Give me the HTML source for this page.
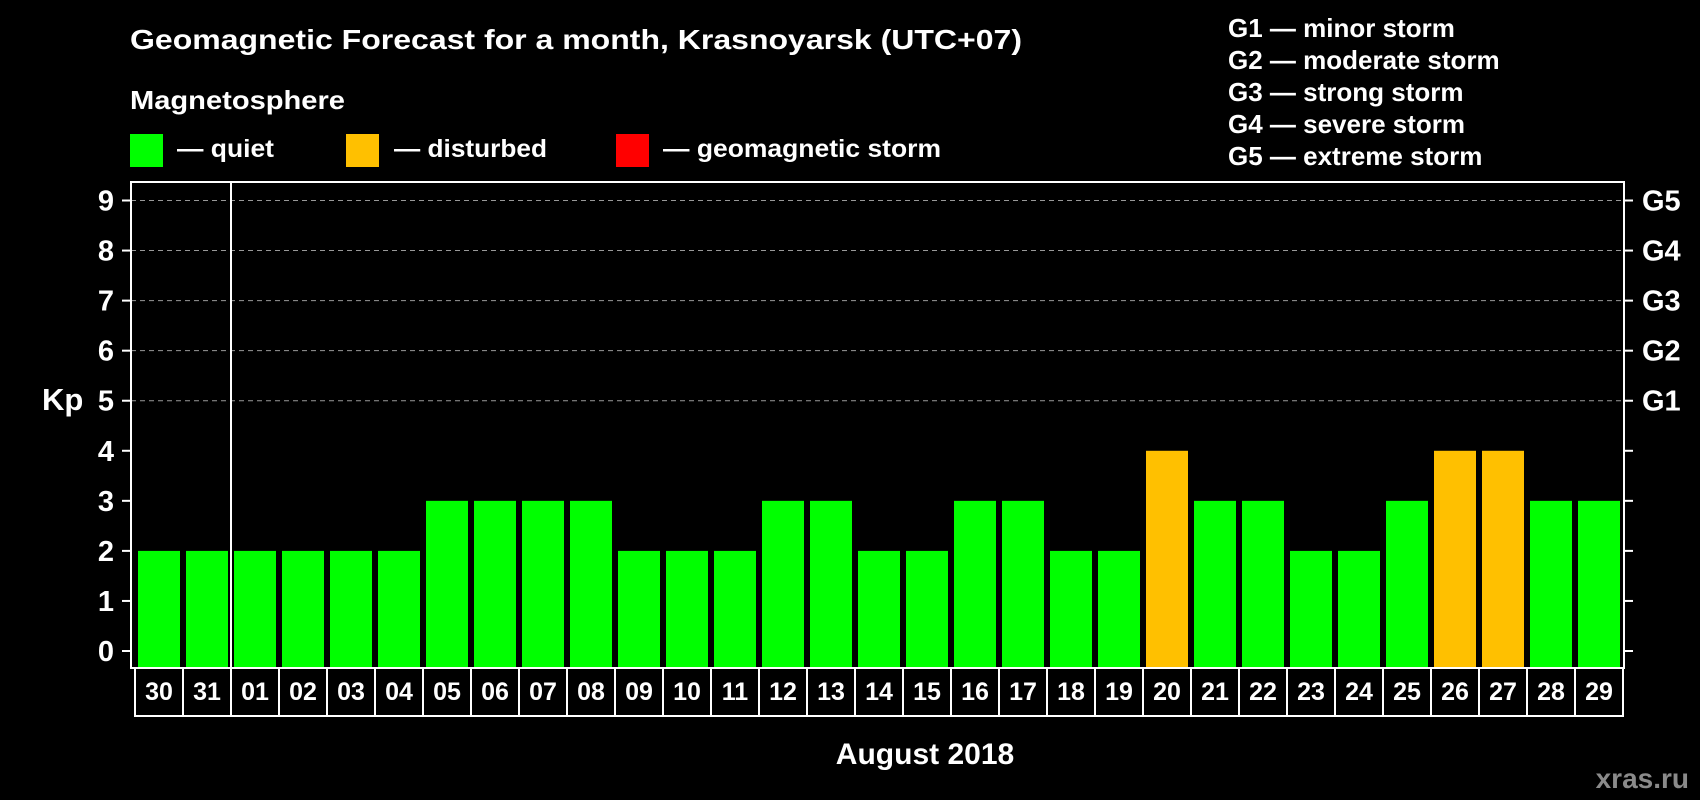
<!DOCTYPE html>
<html><head><meta charset="utf-8"><style>
html,body{margin:0;padding:0;background:#000;}
svg{display:block;font-family:"Liberation Sans",Arial,sans-serif;font-weight:bold;}
</style></head><body>
<svg id="chart" width="1700" height="800" viewBox="0 0 1700 800" xmlns="http://www.w3.org/2000/svg">
<rect width="1700" height="800" fill="#000"/>
<text x="130" y="49" font-size="28" fill="#fff" textLength="892" lengthAdjust="spacingAndGlyphs">Geomagnetic Forecast for a month, Krasnoyarsk (UTC+07)</text>
<text x="130" y="109" font-size="26" fill="#fff" textLength="215" lengthAdjust="spacingAndGlyphs">Magnetosphere</text>
<g>
<rect x="130" y="134" width="33" height="33" fill="#00ff00"/>
<text x="177" y="157" font-size="25" fill="#fff" textLength="97" lengthAdjust="spacingAndGlyphs">— quiet</text></g>
<g>
<rect x="346" y="134" width="33" height="33" fill="#ffc000"/>
<text x="394" y="157" font-size="25" fill="#fff" textLength="153" lengthAdjust="spacingAndGlyphs">— disturbed</text></g>
<g>
<rect x="616" y="134" width="33" height="33" fill="#ff0000"/>
<text x="663" y="157" font-size="25" fill="#fff" textLength="278" lengthAdjust="spacingAndGlyphs">— geomagnetic storm</text></g>
<g font-size="26" fill="#fff">
<text x="1228" y="37">G1 — minor storm</text>
<text x="1228" y="69">G2 — moderate storm</text>
<text x="1228" y="101">G3 — strong storm</text>
<text x="1228" y="133">G4 — severe storm</text>
<text x="1228" y="165">G5 — extreme storm</text>
</g>
<text x="42" y="410" font-size="31" fill="#fff">Kp</text>
<text x="925" y="764" font-size="30" fill="#fff" text-anchor="middle">August 2018</text>
<text x="1689" y="788" font-size="28" fill="#8a8a8a" text-anchor="end">xras.ru</text>
<g id="grid"></g><g id="bars"></g><g id="axes"></g>
</svg>
<script>
const categories = ["30","31","01","02","03","04","05","06","07","08","09","10","11","12","13","14","15","16","17","18","19","20","21","22","23","24","25","26","27","28","29"];
const kpValues = [2,2,2,2,2,2,3,3,3,3,2,2,2,3,3,2,2,3,3,2,2,4,3,3,2,2,3,4,4,3,3];
const yTicks = [0,1,2,3,4,5,6,7,8,9];
const stormLabels = ["G1","G2","G3","G4","G5"];
const stormLevels = [5,6,7,8,9];

const NS="http://www.w3.org/2000/svg";
const L=131,R=1624,T=182,B=668;
const y0=651,unit=(651-200.5)/9;
const pitch=(R-L-5)/categories.length;
function yScale(v){return y0-v*unit;}
function xScale(i){return L+7+i*pitch;}
function mk(tag,attrs,parent){const e=document.createElementNS(NS,tag);for(const k in attrs)e.setAttribute(k,attrs[k]);parent.appendChild(e);return e;}
function color(v){return v>=5?"#ff0000":(v>=4?"#ffc000":"#00ff00");}
const grid=document.getElementById('grid'),bars=document.getElementById('bars'),axes=document.getElementById('axes');

stormLevels.forEach((lv,i)=>{
  const ln=mk('line',{x1:L,x2:R,y1:yScale(lv),y2:yScale(lv),stroke:"#999","stroke-width":1,"stroke-dasharray":"5,4"},grid);
  
  
  const t=mk('text',{x:1642,y:yScale(lv)+10,"font-size":29,fill:"#fff"},axes);
  t.textContent=stormLabels[i];
  
  
});

kpValues.forEach((v,i)=>{
  const r=mk('rect',{x:xScale(i),y:yScale(v),width:42,height:B-yScale(v),fill:color(v)},bars);
  
  
});

const frame=mk('rect',{x:L,y:T,width:R-L,height:B-T,fill:"none",stroke:"#fff","stroke-width":2},axes);


const sep=mk('line',{x1:L+4+2*pitch,x2:L+4+2*pitch,y1:T,y2:B,stroke:"#fff","stroke-width":2},axes);



yTicks.forEach(v=>{
  mk('line',{x1:122,x2:L,y1:yScale(v),y2:yScale(v),stroke:"#fff","stroke-width":2},axes);
  mk('line',{x1:R,x2:1633,y1:yScale(v),y2:yScale(v),stroke:"#fff","stroke-width":2},axes);
  const t=mk('text',{x:114,y:yScale(v)+10,"font-size":29,fill:"#fff","text-anchor":"end"},axes);
  t.textContent=v;
  
  
});

categories.forEach((c,i)=>{
  const bx=L+4+i*pitch;
  const b=mk('rect',{x:bx,y:B,width:pitch,height:48,fill:"none",stroke:"#fff","stroke-width":2},axes);
  
  
  const t=mk('text',{x:bx+pitch/2,y:700,"font-size":25,fill:"#fff","text-anchor":"middle"},axes);
  t.textContent=c;
  
  
});
</script>
</body></html>
